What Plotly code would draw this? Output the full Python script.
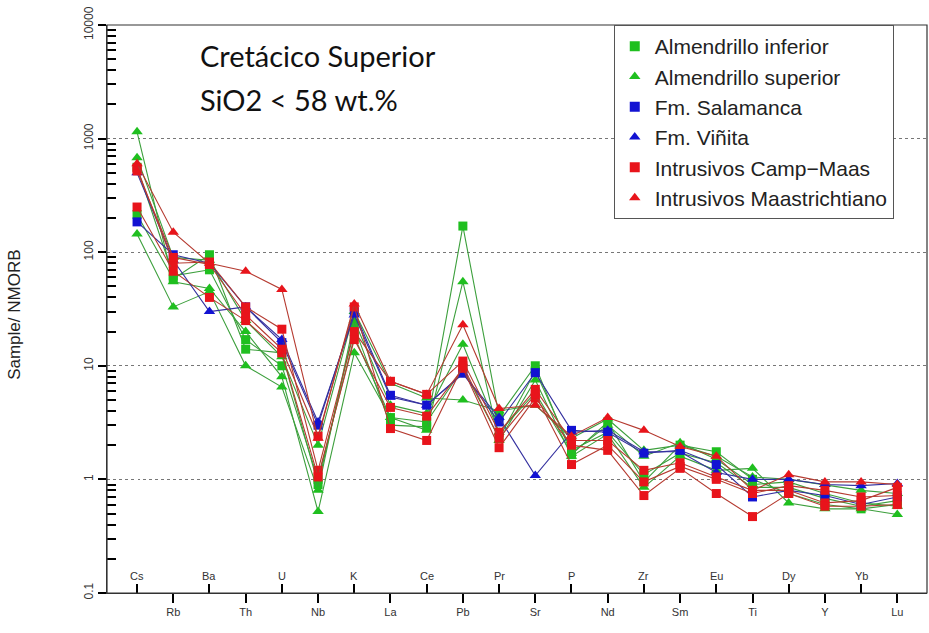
import plotly.graph_objects as go

# Element order of the NMORB-normalised spider diagram
elements = ["Cs", "Rb", "Ba", "Th", "U", "Nb", "K", "La", "Ce", "Pb", "Pr",
            "Sr", "P", "Nd", "Zr", "Sm", "Eu", "Ti", "Dy", "Y", "Yb", "Lu"]

# Sample / NMORB values, one list per sample
almendrillo_inf_1 = [215, 58, 95, 14, 13, 0.9, 22, 3.0, 2.9, 170, 3.6, 10, 1.65, 3.2, 0.95, 2.0, 1.75, 1.0, 0.75, 0.6, 0.55, 0.6]
almendrillo_inf_2 = [560, 62, 70, 17, 10, 1.0, 18, 3.5, 3.2, 9.5, 2.3, 9.0, 1.8, 2.6, 1.1, 1.7, 1.4, 0.85, 0.85, 0.68, 0.58, 0.65]
almendrillo_sup_1 = [1150, 55, 48, 20, 8, 0.52, 13, 3.5, 2.7, 55, 2.2, 7.5, 1.6, 2.5, 0.85, 1.6, 1.2, 1.25, 0.62, 0.55, 0.55, 0.49]
almendrillo_sup_2 = [145, 33, 45, 10, 6.5, 0.8, 25, 4.5, 3.8, 15.5, 2.6, 5.8, 1.7, 3.0, 1.6, 2.1, 1.5, 0.9, 0.95, 0.75, 0.62, 0.58]
almendrillo_sup_3 = [680, 90, 85, 25, 12, 2.0, 30, 7.0, 5.2, 5.0, 4.0, 4.5, 2.3, 3.4, 1.8, 2.0, 1.6, 1.05, 1.0, 0.9, 0.8, 0.75]
salamanca_1 = [185, 95, 80, 33, 16, 3.0, 30, 5.5, 4.5, 8.6, 3.2, 8.7, 2.7, 2.6, 1.7, 1.8, 1.35, 0.7, 0.8, 0.72, 0.6, 0.7]
vinita_1 = [500, 85, 30, 33, 17, 3.2, 28, 5.3, 4.5, 8.5, 3.5, 1.08, 2.6, 2.7, 1.75, 1.75, 1.15, 1.0, 1.0, 0.9, 0.88, 0.92]
camp_maas_1 = [550, 80, 82, 33, 21, 1.2, 20, 7.3, 5.6, 11, 2.6, 6.2, 2.2, 2.2, 1.2, 1.4, 1.05, 0.8, 0.8, 0.62, 0.65, 0.85]
camp_maas_2 = [250, 68, 40, 25, 13, 1.05, 17, 4.3, 3.6, 9.5, 1.9, 5.2, 2.0, 1.8, 0.72, 1.25, 0.75, 0.47, 0.75, 0.58, 0.58, 0.6]
camp_maas_3 = [520, 90, 78, 28, 14, 2.4, 33, 2.8, 2.2, 10, 2.3, 5.6, 1.35, 2.0, 0.95, 1.3, 1.0, 0.75, 0.88, 0.8, 0.7, 0.72]
maastrichtiano_1 = [600, 150, 80, 68, 47, 2.3, 35, 7.3, 5.6, 23, 4.2, 4.5, 2.4, 3.5, 2.7, 1.95, 1.6, 0.8, 1.1, 0.95, 0.95, 0.9]

# Y-axis decades and minor ticks (2..9 per decade)
major_ticks = [0.1, 1, 10, 100, 1000, 10000]
major_labels = ["0.1", "1", "10", "100", "1000", "10000"]
minor_ticks = [m * d for d in [0.1, 1, 10, 100, 1000] for m in range(2, 10)]

GREEN, BLUE, RED = "#1fbf1f", "#1212d2", "#e8141b"
GREEN_L, BLUE_L, RED_L = "#3c9f3c", "#34309f", "#b53a30"

groups = [
    ("Almendrillo inferior", "square", GREEN, GREEN_L, [almendrillo_inf_1, almendrillo_inf_2]),
    ("Almendrillo superior", "triangle-up", GREEN, GREEN_L, [almendrillo_sup_1, almendrillo_sup_2, almendrillo_sup_3]),
    ("Fm. Salamanca", "square", BLUE, BLUE_L, [salamanca_1]),
    ("Fm. Viñita", "triangle-up", BLUE, BLUE_L, [vinita_1]),
    ("Intrusivos Camp\u2212Maas", "square", RED, RED_L, [camp_maas_1, camp_maas_2, camp_maas_3]),
    ("Intrusivos Maastrichtiano", "triangle-up", RED, RED_L, [maastrichtiano_1]),
]

xpos = list(range(len(elements)))
fig = go.Figure()

for name, symbol, mcol, lcol, samples in groups:
    size = 9 if symbol == "square" else 10
    for vals in samples:
        fig.add_trace(go.Scatter(
            x=xpos, y=vals, mode="lines+markers", showlegend=False, name=name,
            line=dict(color=lcol, width=1.1),
            marker=dict(symbol=symbol, size=size, color=mcol, line=dict(width=0)),
        ))

# Marker-only legend entries
for name, symbol, mcol, lcol, samples in groups:
    fig.add_trace(go.Scatter(
        x=[None], y=[None], mode="markers", name=name,
        marker=dict(symbol=symbol, size=10, color=mcol),
    ))

FONT = "Liberation Sans, Arial, sans-serif"
TICK = "black"
axis_font = dict(family=FONT, size=11, color="#333")
odd = [i for i in xpos if i % 2 == 1]
even = [i for i in xpos if i % 2 == 0]

fig.update_layout(
    width=929, height=633,
    margin=dict(l=107, r=2, t=25, b=40),
    plot_bgcolor="white",
    xaxis=dict(
        range=[-0.83, 21.82],
        # lower row: labelled ticks pointing down
        tickvals=odd, ticktext=[elements[i] for i in odd],
        ticks="outside", ticklen=9, tickcolor=TICK, tickwidth=2,
        # upper row: ticks pointing up into the plot
        minor=dict(tickvals=even, ticks="inside", ticklen=9,
                   tickcolor=TICK, tickwidth=2),
        showline=True, linecolor="#333",
        tickfont=axis_font,
    ),
    yaxis=dict(
        type="log", range=[-1.0008, 4.0008],
        tickvals=major_ticks, ticktext=major_labels,
        tickangle=-90, ticks="outside", ticklen=8, tickcolor=TICK, tickwidth=2,
        gridcolor="#777", griddash="dot",
        minor=dict(tickvals=minor_ticks, ticks="inside", ticklen=9,
                   tickcolor=TICK, tickwidth=2),
        showline=True, linecolor="#333",
        tickfont=dict(family=FONT, size=12, color="#333"),
    ),
    legend=dict(
        x=0.618, y=1.0, xanchor="left", yanchor="top",
        bgcolor="white", bordercolor="#555", borderwidth=1,
        font=dict(family=FONT, size=21, color="#222"),
        itemwidth=30,
    ),
)

# Upper row of element labels, sitting just above the bottom axis
for i in even:
    fig.add_annotation(text=elements[i], x=i, xref="x", y=0, yref="paper",
                       yanchor="bottom", yshift=9, showarrow=False,
                       font=axis_font)

# Frame around the plotting area (top and right edges)
fig.add_shape(type="rect", xref="paper", yref="paper", x0=0, x1=1, y0=0, y1=1,
              line=dict(color="#333", width=1.2), layer="above")

fig.add_annotation(text="Cretácico Superior", xref="paper", yref="paper",
                   x=0.111, y=0.947, xanchor="left", yanchor="middle",
                   showarrow=False, font=dict(family="Lato", size=29, color="#111"))
fig.add_annotation(text="SiO2 < 58 wt.%", xref="paper", yref="paper",
                   x=0.111, y=0.868, xanchor="left", yanchor="middle",
                   showarrow=False, font=dict(family="Lato", size=29, color="#111"))
fig.add_annotation(text="Sample/ NMORB", xref="paper", yref="paper",
                   x=-0.112, y=0.49, xanchor="center", yanchor="middle",
                   textangle=-90, showarrow=False,
                   font=dict(family=FONT, size=17, color="#222"))

fig.write_html("out.html")
